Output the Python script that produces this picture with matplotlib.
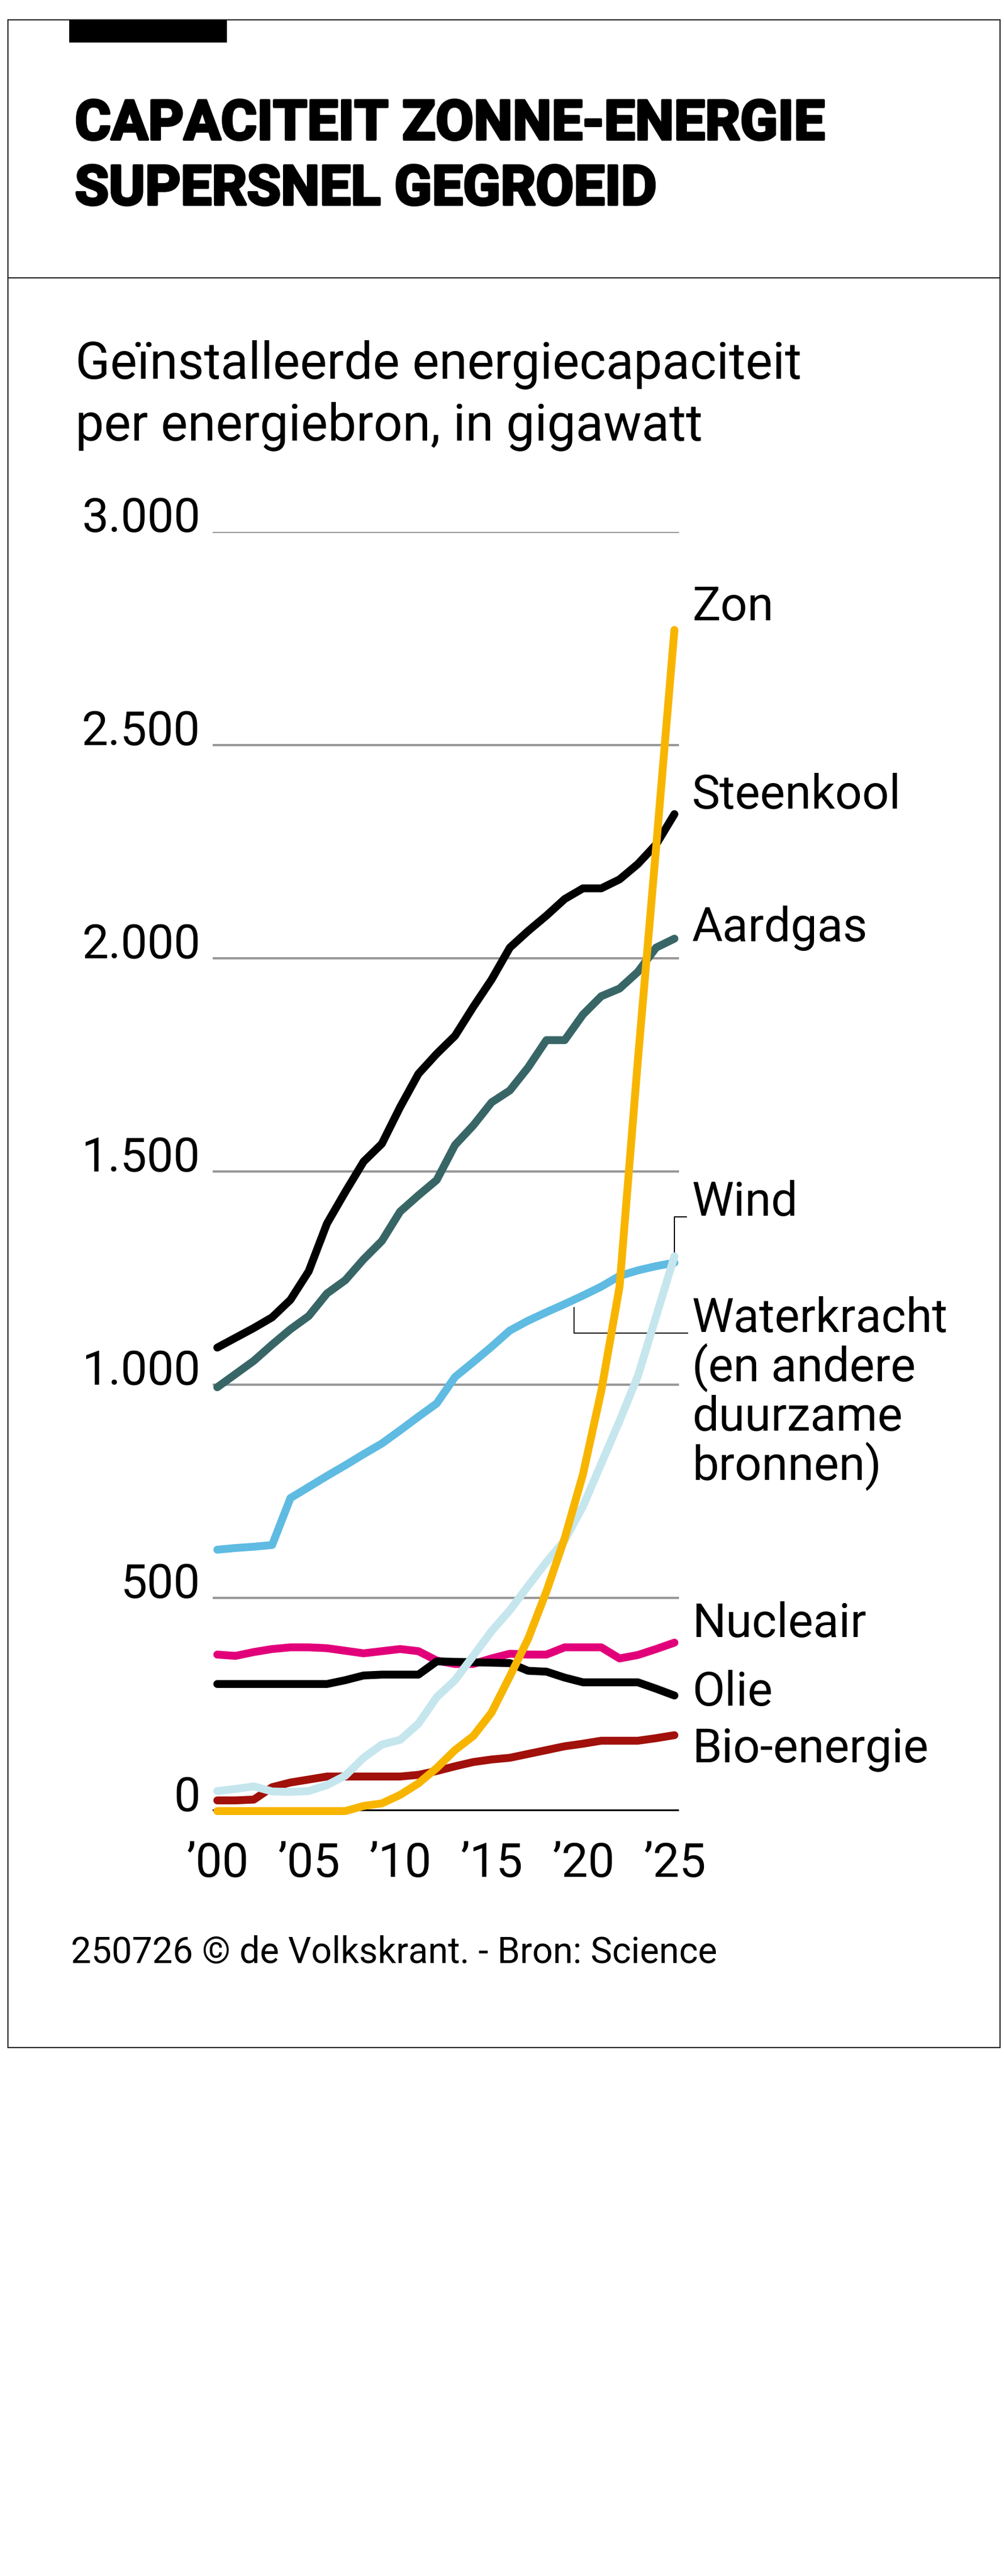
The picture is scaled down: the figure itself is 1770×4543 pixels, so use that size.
"""Capaciteit zonne-energie supersnel gegroeid - lijngrafiek per energiebron."""

import matplotlib
matplotlib.use("Agg")
import matplotlib.pyplot as plt
import matplotlib.patheffects as pe
from matplotlib.patches import Rectangle
from matplotlib.lines import Line2D

plt.rcParams["font.family"] = ["Roboto", "DejaVu Sans"]

YEARS = list(range(2000, 2026))
STEENKOOL = [1087, 1110, 1133, 1158, 1199, 1266, 1378, 1452, 1523, 1565, 1651, 1729, 1776,
             1818, 1886, 1950, 2025, 2064, 2100, 2139, 2164, 2164, 2185, 2221, 2267, 2338]
AARDGAS = [994, 1025, 1056, 1094, 1130, 1161, 1214, 1245, 1294, 1337, 1406, 1444, 1480,
           1562, 1608, 1662, 1690, 1744, 1808, 1808, 1868, 1911, 1929, 1968, 2025, 2046]
WATERKRACHT = [613, 617, 620, 624, 734, 760, 786, 811, 837, 862, 893, 925, 956,
               1018, 1053, 1089, 1127, 1150, 1170, 1189, 1209, 1230, 1255, 1268, 1278, 1286]
WIND = [47, 52, 58, 46, 45, 47, 61, 83, 125, 156, 167, 205, 267,
        307, 364, 422, 471, 528, 584, 635, 715, 815, 915, 1020, 1160, 1301]
ZON = [0, 0, 0, 0, 0, 0, 0, 0, 12, 18, 38, 65, 101,
       143, 176, 231, 316, 404, 515, 640, 790, 985, 1230, 1760, 2260, 2770]
NUCLEAIR = [367, 364, 373, 380, 384, 384, 382, 376, 370, 375, 380, 375, 353,
            345, 345, 358, 369, 367, 367, 384, 384, 384, 358, 366, 380, 395]
OLIE = [298, 298, 298, 298, 298, 298, 298, 307, 318, 320, 320, 320, 351,
        350, 349, 348, 347, 329, 327, 313, 302, 302, 302, 302, 287, 271]
BIO = [25, 25, 27, 56, 67, 74, 81, 81, 81, 81, 81, 85, 94,
       105, 115, 121, 125, 134, 143, 152, 158, 165, 165, 165, 171, 178]

Y_TICKS = [0, 500, 1000, 1500, 2000, 2500, 3000]
Y_LABELS = ["0", "500", "1.000", "1.500", "2.000", "2.500", "3.000"]
X_TICKS = [2000, 2005, 2010, 2015, 2020, 2025]
X_LABELS = ["\u201900", "\u201905", "\u201910", "\u201915", "\u201920", "\u201925"]

W, H = 1770, 4543


def fx(x):
    return x / W


def fy(y):
    return 1 - y / H


fig = plt.figure(figsize=(W / 100, H / 100), dpi=100)

# frame, separator, black tab
fig.patches.append(Rectangle((fx(14), fy(3611)), fx(1763) - fx(14), fy(35) - fy(3611),
                             transform=fig.transFigure, fill=False, edgecolor="#222222",
                             linewidth=1.5))
fig.lines.append(Line2D([fx(14), fx(1763)], [fy(490), fy(490)], transform=fig.transFigure,
                        color="#222222", linewidth=1.5))
fig.patches.append(Rectangle((fx(122), fy(75)), fx(400) - fx(122), fy(35) - fy(75),
                             transform=fig.transFigure, facecolor="black", edgecolor="none"))

heavy = [pe.withStroke(linewidth=3.2, foreground="black")]
fig.text(fx(132), fy(246), "CAPACITEIT ZONNE-ENERGIE", fontsize=70, fontweight="bold",
         va="baseline", path_effects=heavy)
fig.text(fx(132), fy(361), "SUPERSNEL GEGROEID", fontsize=70, fontweight="bold",
         va="baseline", path_effects=heavy)
fig.text(fx(133), fy(668), "Geïnstalleerde energiecapaciteit", fontsize=64.5,
         va="baseline")
fig.text(fx(133), fy(777), "per energiebron, in gigawatt", fontsize=64.5,
         va="baseline")
fig.text(fx(125), fy(3462), "250726 \u00a9 de Volkskrant. - Bron: Science", fontsize=46,
         va="baseline")

ax = fig.add_axes([fx(375), fy(3194), fx(1197) - fx(375), fy(938) - fy(3194)])
ax.set_xlim(1999.75, 2025.25)
ax.set_ylim(0, 3000)
for spine in ax.spines.values():
    spine.set_visible(False)
ax.set_yticks(Y_TICKS)
ax.set_yticklabels(Y_LABELS)
ax.set_xticks(X_TICKS)
ax.set_xticklabels(X_LABELS)
ax.tick_params(axis="both", length=0, labelsize=60)
ax.tick_params(axis="y", pad=16)
ax.tick_params(axis="x", pad=38)
for lbl in ax.get_yticklabels():
    lbl.set_va("baseline")
ax.yaxis.grid(True, color="#999999", linewidth=2.9)
ax.set_axisbelow(True)
ax.axhline(0, color="black", linewidth=5, zorder=2.5)

series = [
    (STEENKOOL, "#000000"),
    (AARDGAS, "#386667"),
    (WATERKRACHT, "#5fbbe1"),
    (NUCLEAIR, "#e2007a"),
    (OLIE, "#000000"),
    (BIO, "#a1100a"),
    (WIND, "#c6e6ee"),
    (ZON, "#f8b500"),
]
for i, (values, color) in enumerate(series):
    ax.plot(YEARS, values, color=color, linewidth=10, solid_capstyle="round",
            solid_joinstyle="round", clip_on=False, zorder=3 + i * 0.1)

# leader lines
ax.plot([2025, 2025, 2025.65], [WIND[-1], 1394, 1394], color="black", linewidth=1.4,
        clip_on=False, zorder=2.8)
ax.plot([2019.5, 2019.5, 2025.7], [1181, 1121, 1121], color="black", linewidth=1.4,
        clip_on=False, zorder=2.8)

labels = [
    ("Zon", 1094), ("Steenkool", 1426), ("Aardgas", 1660), ("Wind", 2144),
    ("Waterkracht", 2349), ("(en andere", 2436), ("duurzame", 2523), ("bronnen)", 2610),
    ("Nucleair", 2887), ("Olie", 3008), ("Bio-energie", 3108),
]
for text, base in labels:
    fig.text(fx(1220), fy(base), text, fontsize=60, va="baseline")

fig.savefig("out.png", dpi=100, facecolor="white")
